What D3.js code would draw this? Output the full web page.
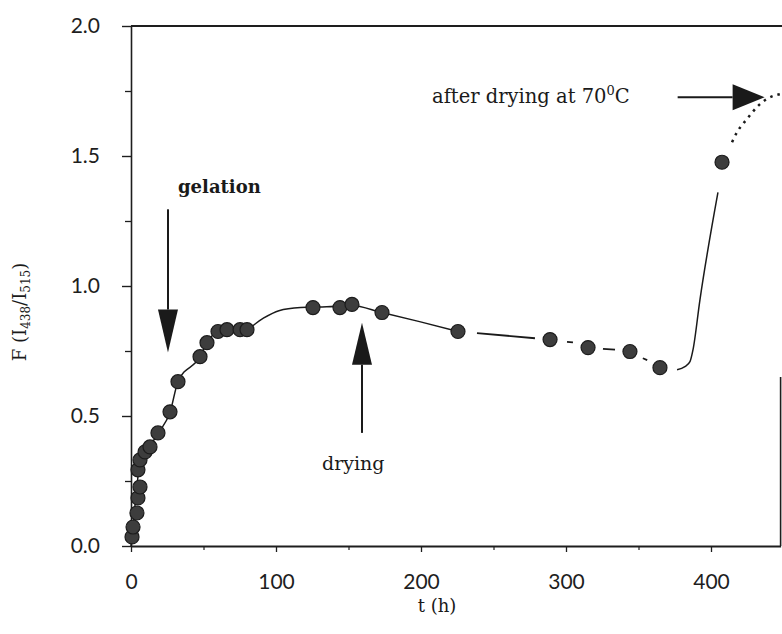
<!DOCTYPE html>
<html>
<head>
<meta charset="utf-8">
<script src="https://cdn.jsdelivr.net/npm/d3@7"></script>
<style>
  body { margin: 0; background: #fff; }
  svg { display: block; }
  .tick text { font-family: Lato, 'Open Sans', sans-serif; font-size: 21px; fill: #1e1e1e; }
  .tick line, .domain { stroke: #1e1e1e; }
  .note { font-family: 'DejaVu Serif', serif; fill: #1a1a1a; }
</style>
</head>
<body>
<svg width="782" height="634"></svg>
<script>
// measured points (t in hours, F = I438/I515)
const tHours = [0.7, 1.4, 4.1, 4.8, 6.2, 4.8, 6.2, 9.7, 13.1, 18.6, 26.9, 32.4,
  47.6, 52.4, 60, 66.2, 75.2, 80, 125.5, 144.1, 152.4, 173.1, 225.5,
  289, 315.2, 344.1, 364.8, 407.6];
const fRatio = [0.035, 0.073, 0.127, 0.185, 0.227, 0.293, 0.331, 0.362, 0.381, 0.435, 0.516, 0.632,
  0.728, 0.782, 0.825, 0.832, 0.832, 0.832, 0.917, 0.917, 0.929, 0.898, 0.825,
  0.794, 0.763, 0.748, 0.686, 1.476];

// hand drawn guide line
const solidT = [0, 1.5, 3, 4.5, 6, 10, 19, 27, 32.4, 47.6, 52.4, 60, 70, 80, 90, 102, 117, 135, 152, 173, 199, 225.5];
const solidF = [0, 0.08, 0.17, 0.25, 0.33, 0.362, 0.435, 0.516, 0.632, 0.728, 0.782, 0.825, 0.832, 0.836, 0.872, 0.905, 0.917, 0.92, 0.925, 0.898, 0.863, 0.825];
const dashPieces = [
  [[238.6, 0.819], [278.6, 0.799]],
  [[300.7, 0.785], [304.8, 0.783]],
  [[325.5, 0.758], [333.8, 0.755]],
  [[353, 0.722], [356, 0.715]]
];
const riseT = [376.6, 382, 385.5, 387.6, 392.4, 404.8];
const riseF = [0.678, 0.69, 0.709, 0.755, 0.948, 1.36];
const dotT = [414.5, 418, 424.8, 432.4, 438.6, 447.6];
const dotF = [1.553, 1.592, 1.642, 1.692, 1.72, 1.738];

const yTickLabels = ['0.0', '0.5', '1.0', '1.5', '2.0'];
const xTickLabels = ['0', '100', '200', '300', '400'];

const svg = d3.select('svg');

const x = d3.scaleLinear().domain([0, 448]).range([131, 780.6]);
const y = d3.scaleLinear().domain([0, 2]).range([546, 26]);

// y axis: labelled every 0.5, short ticks in between
svg.append('g')
  .attr('transform', 'translate(131,0)')
  .call(d3.axisLeft(y)
    .tickValues(d3.range(0, 2.01, 0.5))
    .tickFormat((d, i) => yTickLabels[i])
    .tickSizeInner(9).tickSizeOuter(0).tickPadding(22))
  .call(g => g.select('.domain').attr('stroke-width', 1.6))
  .call(g => g.selectAll('.tick line').attr('stroke-width', 1.4));

svg.append('g')
  .attr('transform', 'translate(131,0)')
  .call(d3.axisLeft(y)
    .tickValues([0.25, 0.75, 1.25, 1.75])
    .tickFormat('')
    .tickSizeInner(6).tickSizeOuter(0))
  .call(g => g.select('.domain').remove())
  .call(g => g.selectAll('.tick line').attr('stroke-width', 1.3));

// x axis
svg.append('g')
  .attr('transform', 'translate(0,546)')
  .call(d3.axisBottom(x)
    .tickValues(d3.range(0, 401, 100))
    .tickFormat((d, i) => xTickLabels[i])
    .tickSizeInner(6).tickSizeOuter(0).tickPadding(22))
  .call(g => g.select('.domain').attr('stroke-width', 2))
  .call(g => g.selectAll('.tick line').attr('stroke-width', 1.3));

svg.append('g')
  .attr('transform', 'translate(0,546)')
  .call(d3.axisBottom(x)
    .tickValues([50, 150, 250, 350])
    .tickFormat('')
    .tickSizeInner(4).tickSizeOuter(0))
  .call(g => g.select('.domain').remove())
  .call(g => g.selectAll('.tick line').attr('stroke-width', 1.2));

// frame: top edge and the visible bit of the right edge
svg.append('line')
  .attr('x1', x(0)).attr('x2', 782)
  .attr('y1', y(2)).attr('y2', y(2))
  .attr('stroke', '#1e1e1e').attr('stroke-width', 1.8);
svg.append('line')
  .attr('x1', x(448)).attr('x2', x(448))
  .attr('y1', y(0)).attr('y2', y(0.65))
  .attr('stroke', '#1e1e1e').attr('stroke-width', 1.6);

// axis titles
svg.append('text')
  .attr('class', 'note')
  .attr('x', 437).attr('y', 612)
  .attr('text-anchor', 'middle')
  .style('font-size', '18px')
  .text('t (h)');

const yTitle = svg.append('text')
  .attr('class', 'note')
  .attr('transform', 'translate(26,312) rotate(-90)')
  .attr('text-anchor', 'middle')
  .style('font-size', '18px');
yTitle.append('tspan').text('F (I');
yTitle.append('tspan').attr('dy', 4).style('font-size', '12px').text('438');
yTitle.append('tspan').attr('dy', -4).text('/I');
yTitle.append('tspan').attr('dy', 4).style('font-size', '12px').text('515');
yTitle.append('tspan').attr('dy', -4).text(')');

// guide line
const line = d3.line()
  .x(d => x(d[0]))
  .y(d => y(d[1]))
  .curve(d3.curveMonotoneX);

svg.append('path')
  .datum(d3.zip(solidT, solidF))
  .attr('d', line)
  .attr('fill', 'none').attr('stroke', '#1a1a1a').attr('stroke-width', 1.5);

svg.selectAll('.dash')
  .data(dashPieces)
  .enter().append('path')
  .attr('class', 'dash')
  .attr('d', d3.line().x(d => x(d[0])).y(d => y(d[1])))
  .attr('fill', 'none').attr('stroke', '#1a1a1a').attr('stroke-width', 1.8);

svg.append('path')
  .datum(d3.zip(riseT, riseF))
  .attr('d', line)
  .attr('fill', 'none').attr('stroke', '#1a1a1a').attr('stroke-width', 1.5);

svg.append('path')
  .datum(d3.zip(dotT, dotF))
  .attr('d', line)
  .attr('fill', 'none').attr('stroke', '#1a1a1a').attr('stroke-width', 2.5)
  .attr('stroke-dasharray', '2.5,5');

// markers
svg.selectAll('.pt')
  .data(d3.zip(tHours, fRatio))
  .enter().append('circle')
  .attr('class', 'pt')
  .attr('cx', d => x(d[0]))
  .attr('cy', d => y(d[1]))
  .attr('r', 7)
  .attr('fill', '#3d3d3d')
  .attr('stroke', '#1c1c1c').attr('stroke-width', 1.2);

// annotations with arrows
function arrow(x1, y1, x2, y2, headLen, headHalf) {
  const ang = Math.atan2(y2 - y1, x2 - x1);
  const bx = x2 - headLen * Math.cos(ang), by = y2 - headLen * Math.sin(ang);
  svg.append('line')
    .attr('x1', x1).attr('y1', y1).attr('x2', bx).attr('y2', by)
    .attr('stroke', '#1a1a1a').attr('stroke-width', 2);
  const px = -Math.sin(ang) * headHalf, py = Math.cos(ang) * headHalf;
  svg.append('path')
    .attr('d', `M${x2},${y2}L${bx + px},${by + py}L${bx - px},${by - py}Z`)
    .attr('fill', '#1a1a1a');
}

arrow(x(25.5), y(1.295), x(25.5), y(0.744), 43, 10);
svg.append('text').attr('class', 'note')
  .attr('x', 178).attr('y', 193)
  .style('font-size', '18px').style('font-weight', 'bold')
  .text('gelation');

arrow(x(159.3), y(0.435), x(159.3), y(0.859), 42, 10);
svg.append('text').attr('class', 'note')
  .attr('x', 322).attr('y', 470)
  .style('font-size', '19px')
  .text('drying');

arrow(x(377), y(1.726), x(437), y(1.726), 32, 13);
const after = svg.append('text').attr('class', 'note')
  .attr('x', 432).attr('y', 103)
  .style('font-size', '19.5px');
after.append('tspan').text('after drying at 70');
after.append('tspan').attr('dy', -8).style('font-size', '13px').text('0');
after.append('tspan').attr('dy', 8).text('C');
</script>
</body>
</html>
